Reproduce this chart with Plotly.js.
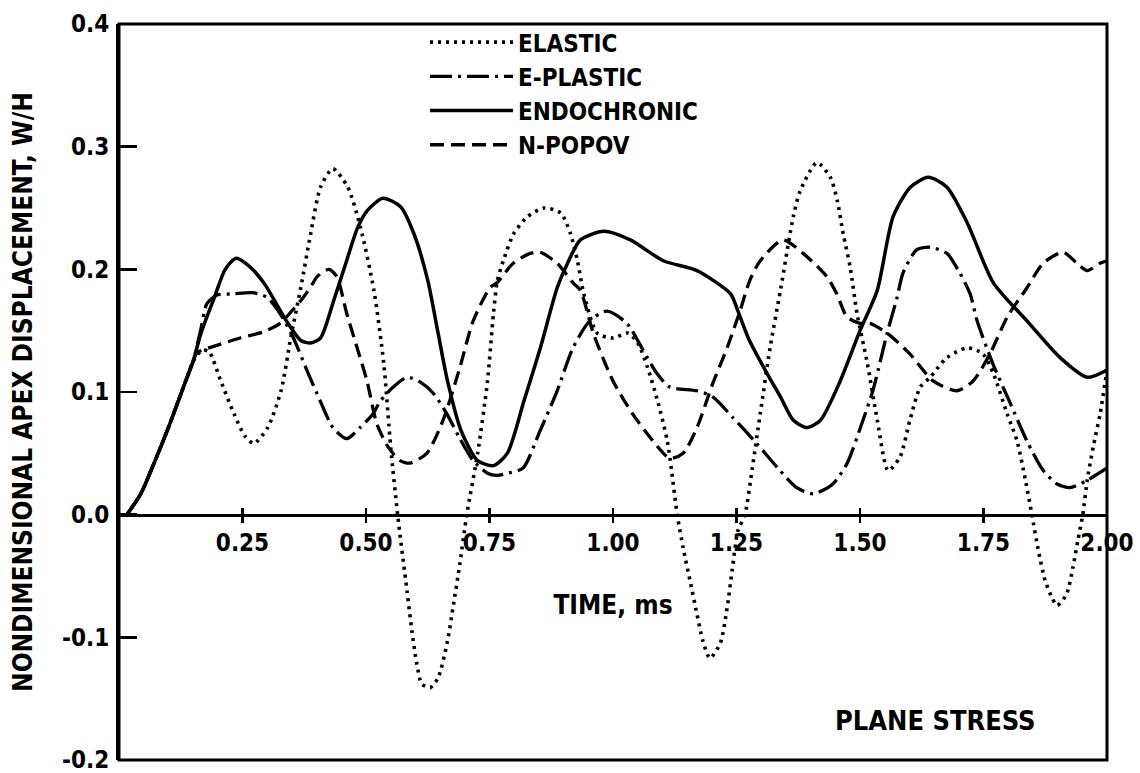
<!DOCTYPE html>
<html>
<head>
<meta charset="utf-8">
<script src="https://cdn.plot.ly/plotly-3.0.1.min.js"></script>
<style>html,body{margin:0;padding:0;background:#fff;}</style>
</head>
<body>
<div id="chart" style="width:1140px;height:773px;"></div>
<script>
// ---- data (time in ms, nondimensional apex displacement W/H) ----
var seriesNames = ["ELASTIC", "E-PLASTIC", "ENDOCHRONIC", "N-POPOV"];

var tElastic = [0.016,0.044,0.071,0.1,0.135,0.15,0.168,0.182,0.206,0.233,0.255,0.273,0.301,0.328,0.348,0.368,0.388,0.408,0.433,0.463,0.489,0.516,0.536,0.55,0.564,0.583,0.593,0.603,0.613,0.63,0.646,0.664,0.676,0.69,0.704,0.726,0.746,0.758,0.766,0.778,0.799,0.827,0.86,0.894,0.914,0.928,0.941,0.968,1.0,1.03,1.05,1.07,1.09,1.11,1.13,1.142,1.156,1.17,1.182,1.196,1.217,1.231,1.241,1.253,1.267,1.282,1.298,1.318,1.339,1.365,1.379,1.413,1.44,1.454,1.466,1.48,1.494,1.515,1.535,1.557,1.581,1.601,1.622,1.642,1.676,1.717,1.749,1.77,1.798,1.818,1.835,1.848,1.86,1.875,1.889,1.899,1.918,1.931,1.941,1.951,1.96,1.972,1.986,2.0];
var yElastic = [0,0.017,0.042,0.071,0.109,0.125,0.134,0.133,0.109,0.082,0.064,0.058,0.071,0.101,0.145,0.185,0.229,0.267,0.282,0.267,0.234,0.183,0.123,0.055,0,-0.062,-0.095,-0.122,-0.138,-0.141,-0.133,-0.105,-0.076,-0.04,0,0.05,0.109,0.164,0.191,0.207,0.229,0.243,0.25,0.246,0.229,0.207,0.18,0.148,0.144,0.148,0.14,0.12,0.093,0.06,0,-0.027,-0.054,-0.081,-0.103,-0.117,-0.105,-0.076,-0.046,-0.013,0,0.038,0.082,0.136,0.183,0.243,0.264,0.287,0.275,0.256,0.229,0.202,0.164,0.123,0.077,0.036,0.047,0.077,0.104,0.112,0.128,0.136,0.131,0.115,0.082,0.06,0.028,0,-0.027,-0.054,-0.068,-0.074,-0.065,-0.043,-0.021,0,0.028,0.055,0.082,0.118];

var tEPlastic = [0.016,0.044,0.071,0.1,0.135,0.15,0.165,0.178,0.198,0.231,0.271,0.3,0.326,0.352,0.38,0.407,0.433,0.461,0.488,0.514,0.528,0.555,0.583,0.61,0.636,0.664,0.69,0.717,0.745,0.765,0.79,0.818,0.852,0.887,0.919,0.953,0.988,1.028,1.061,1.089,1.115,1.17,1.202,1.243,1.291,1.338,1.372,1.405,1.445,1.474,1.506,1.526,1.555,1.575,1.587,1.615,1.642,1.676,1.702,1.723,1.737,1.769,1.804,1.838,1.871,1.899,1.925,1.96,1.992,2.0];
var yEPlastic = [0,0.017,0.042,0.071,0.109,0.125,0.15,0.172,0.179,0.18,0.181,0.177,0.164,0.145,0.118,0.093,0.071,0.062,0.071,0.082,0.092,0.104,0.112,0.108,0.099,0.082,0.062,0.044,0.034,0.032,0.034,0.038,0.068,0.101,0.136,0.158,0.166,0.156,0.134,0.115,0.104,0.101,0.096,0.079,0.058,0.036,0.022,0.017,0.025,0.042,0.077,0.101,0.148,0.177,0.197,0.216,0.218,0.213,0.197,0.18,0.158,0.123,0.091,0.06,0.036,0.025,0.022,0.028,0.036,0.038];

var tEndo = [0.016,0.044,0.071,0.1,0.135,0.15,0.166,0.193,0.215,0.237,0.265,0.293,0.342,0.368,0.388,0.408,0.435,0.46,0.483,0.503,0.534,0.57,0.597,0.625,0.645,0.665,0.692,0.726,0.758,0.786,0.82,0.853,0.887,0.908,0.934,0.981,1.035,1.102,1.17,1.238,1.252,1.275,1.312,1.339,1.365,1.393,1.42,1.46,1.5,1.535,1.567,1.602,1.638,1.676,1.717,1.77,1.838,1.905,1.96,2.0];
var yEndo = [0,0.017,0.042,0.071,0.109,0.125,0.148,0.177,0.2,0.209,0.202,0.189,0.156,0.142,0.14,0.144,0.175,0.206,0.234,0.248,0.258,0.251,0.229,0.191,0.15,0.109,0.069,0.044,0.04,0.05,0.093,0.136,0.185,0.205,0.224,0.231,0.224,0.207,0.199,0.18,0.167,0.143,0.115,0.096,0.077,0.071,0.077,0.109,0.15,0.183,0.243,0.267,0.275,0.267,0.238,0.189,0.158,0.128,0.112,0.118];

var tPopov = [0.016,0.044,0.071,0.1,0.135,0.15,0.158,0.198,0.245,0.292,0.326,0.352,0.373,0.393,0.401,0.425,0.441,0.461,0.482,0.502,0.522,0.545,0.569,0.589,0.623,0.656,0.69,0.717,0.751,0.765,0.798,0.832,0.852,0.887,0.919,0.934,0.96,1.0,1.04,1.081,1.115,1.142,1.17,1.202,1.231,1.257,1.277,1.298,1.344,1.385,1.433,1.453,1.474,1.5,1.52,1.555,1.601,1.648,1.696,1.729,1.763,1.798,1.838,1.871,1.911,1.939,1.96,1.986,2.0];
var yPopov = [0,0.017,0.042,0.071,0.109,0.125,0.132,0.138,0.144,0.149,0.156,0.167,0.177,0.189,0.194,0.2,0.194,0.164,0.136,0.109,0.074,0.055,0.044,0.042,0.05,0.077,0.12,0.158,0.185,0.189,0.205,0.213,0.214,0.205,0.189,0.183,0.148,0.109,0.082,0.06,0.046,0.05,0.071,0.107,0.136,0.166,0.191,0.207,0.224,0.213,0.194,0.18,0.161,0.156,0.156,0.148,0.131,0.109,0.101,0.109,0.131,0.161,0.185,0.205,0.214,0.205,0.199,0.205,0.207];

var xTickVals = [0.25,0.5,0.75,1.0,1.25,1.5,1.75,2.0];
var xTickText = ["0.25","0.50","0.75","1.00","1.25","1.50","1.75","2.00"];
var yTickVals = [0.4,0.3,0.2,0.1,0.0,-0.1,-0.2];
var yTickText = ["0.4","0.3","0.2","0.1","0.0","-0.1","-0.2"];

// ---- styling ----
var FONT = "'DejaVu Sans Condensed', 'DejaVu Sans', sans-serif";
function tr(x, y, name, dash, w) {
  return {x: x, y: y, name: name, type: 'scatter', mode: 'lines',
    line: {color: '#000', width: w, dash: dash, shape: 'spline', smoothing: 0.7}};
}
var data = [
  tr(tElastic, yElastic, seriesNames[0], '3px,5px', 3.6),
  tr(tEPlastic, yEPlastic, seriesNames[1], '22px,6px,3px,6px', 3.3),
  tr(tEndo, yEndo, seriesNames[2], 'solid', 3.5),
  tr(tPopov, yPopov, seriesNames[3], '14px,7px', 3.3)
];
// helper axis for the upward half of the crossing ticks on the zero line
data.push({x: [0], y: [0], xaxis: 'x2', type: 'scatter', mode: 'markers',
  marker: {opacity: 0}, showlegend: false, hoverinfo: 'skip'});

var layout = {
  width: 1140, height: 773,
  margin: {l: 119, r: 33, t: 24, b: 13},
  paper_bgcolor: '#fff', plot_bgcolor: '#fff',
  font: {family: FONT, color: '#000', size: 24},
  showlegend: true,
  legend: {x: 0.3097, y: 1.0054, xanchor: 'left', yanchor: 'top',
    bgcolor: 'rgba(0,0,0,0)', itemwidth: 83, tracegroupgap: 0,
    font: {family: FONT, size: 24, weight: 'bold', color: '#000'}},
  xaxis: {range: [0, 2], anchor: 'free', position: 1/3,
    tickvals: xTickVals, ticktext: xTickText,
    ticks: 'outside', ticklen: 6, tickwidth: 2.5, tickcolor: '#000',
    showline: true, linewidth: 3, linecolor: '#000',
    showgrid: false, zeroline: false, ticklabelstandoff: 0,
    ticklabeloverflow: 'allow',
    tickfont: {family: FONT, size: 24, weight: 'bold'},
    title: {text: 'TIME, ms', standoff: 39, font: {family: FONT, size: 26, weight: 'bold'}}},
  xaxis2: {range: [0, 2], overlaying: 'x', anchor: 'free', position: 1/3,
    tickvals: xTickVals, ticks: 'inside', ticklen: 7, tickwidth: 2.5, tickcolor: '#000',
    showticklabels: false, showline: false, showgrid: false, zeroline: false},
  yaxis: {range: [-0.2, 0.4], tickvals: yTickVals, ticktext: yTickText,
    ticks: 'inside', ticklen: 18, tickwidth: 2.5, tickcolor: '#000',
    showline: true, linewidth: 3, linecolor: '#000',
    showgrid: false, zeroline: false, ticklabelstandoff: 2,
    ticklabeloverflow: 'allow',
    tickfont: {family: FONT, size: 24, weight: 'bold'},
    title: {text: 'NONDIMENSIONAL APEX DISPLACEMENT, W/H', standoff: 22,
      font: {family: FONT, size: 26, weight: 'bold'}}},
  shapes: [{type: 'rect', xref: 'paper', yref: 'paper', x0: 0, x1: 1, y0: 0, y1: 1,
    line: {color: '#000', width: 3}}],
  annotations: [{text: 'PLANE STRESS', xref: 'paper', yref: 'paper', x: 0.826, y: 0.054,
    xanchor: 'center', yanchor: 'middle', showarrow: false,
    font: {family: FONT, size: 27, weight: 'bold', color: '#000'}}]
};
Plotly.newPlot('chart', data, layout, {staticPlot: true, displayModeBar: false});
</script>
</body>
</html>
